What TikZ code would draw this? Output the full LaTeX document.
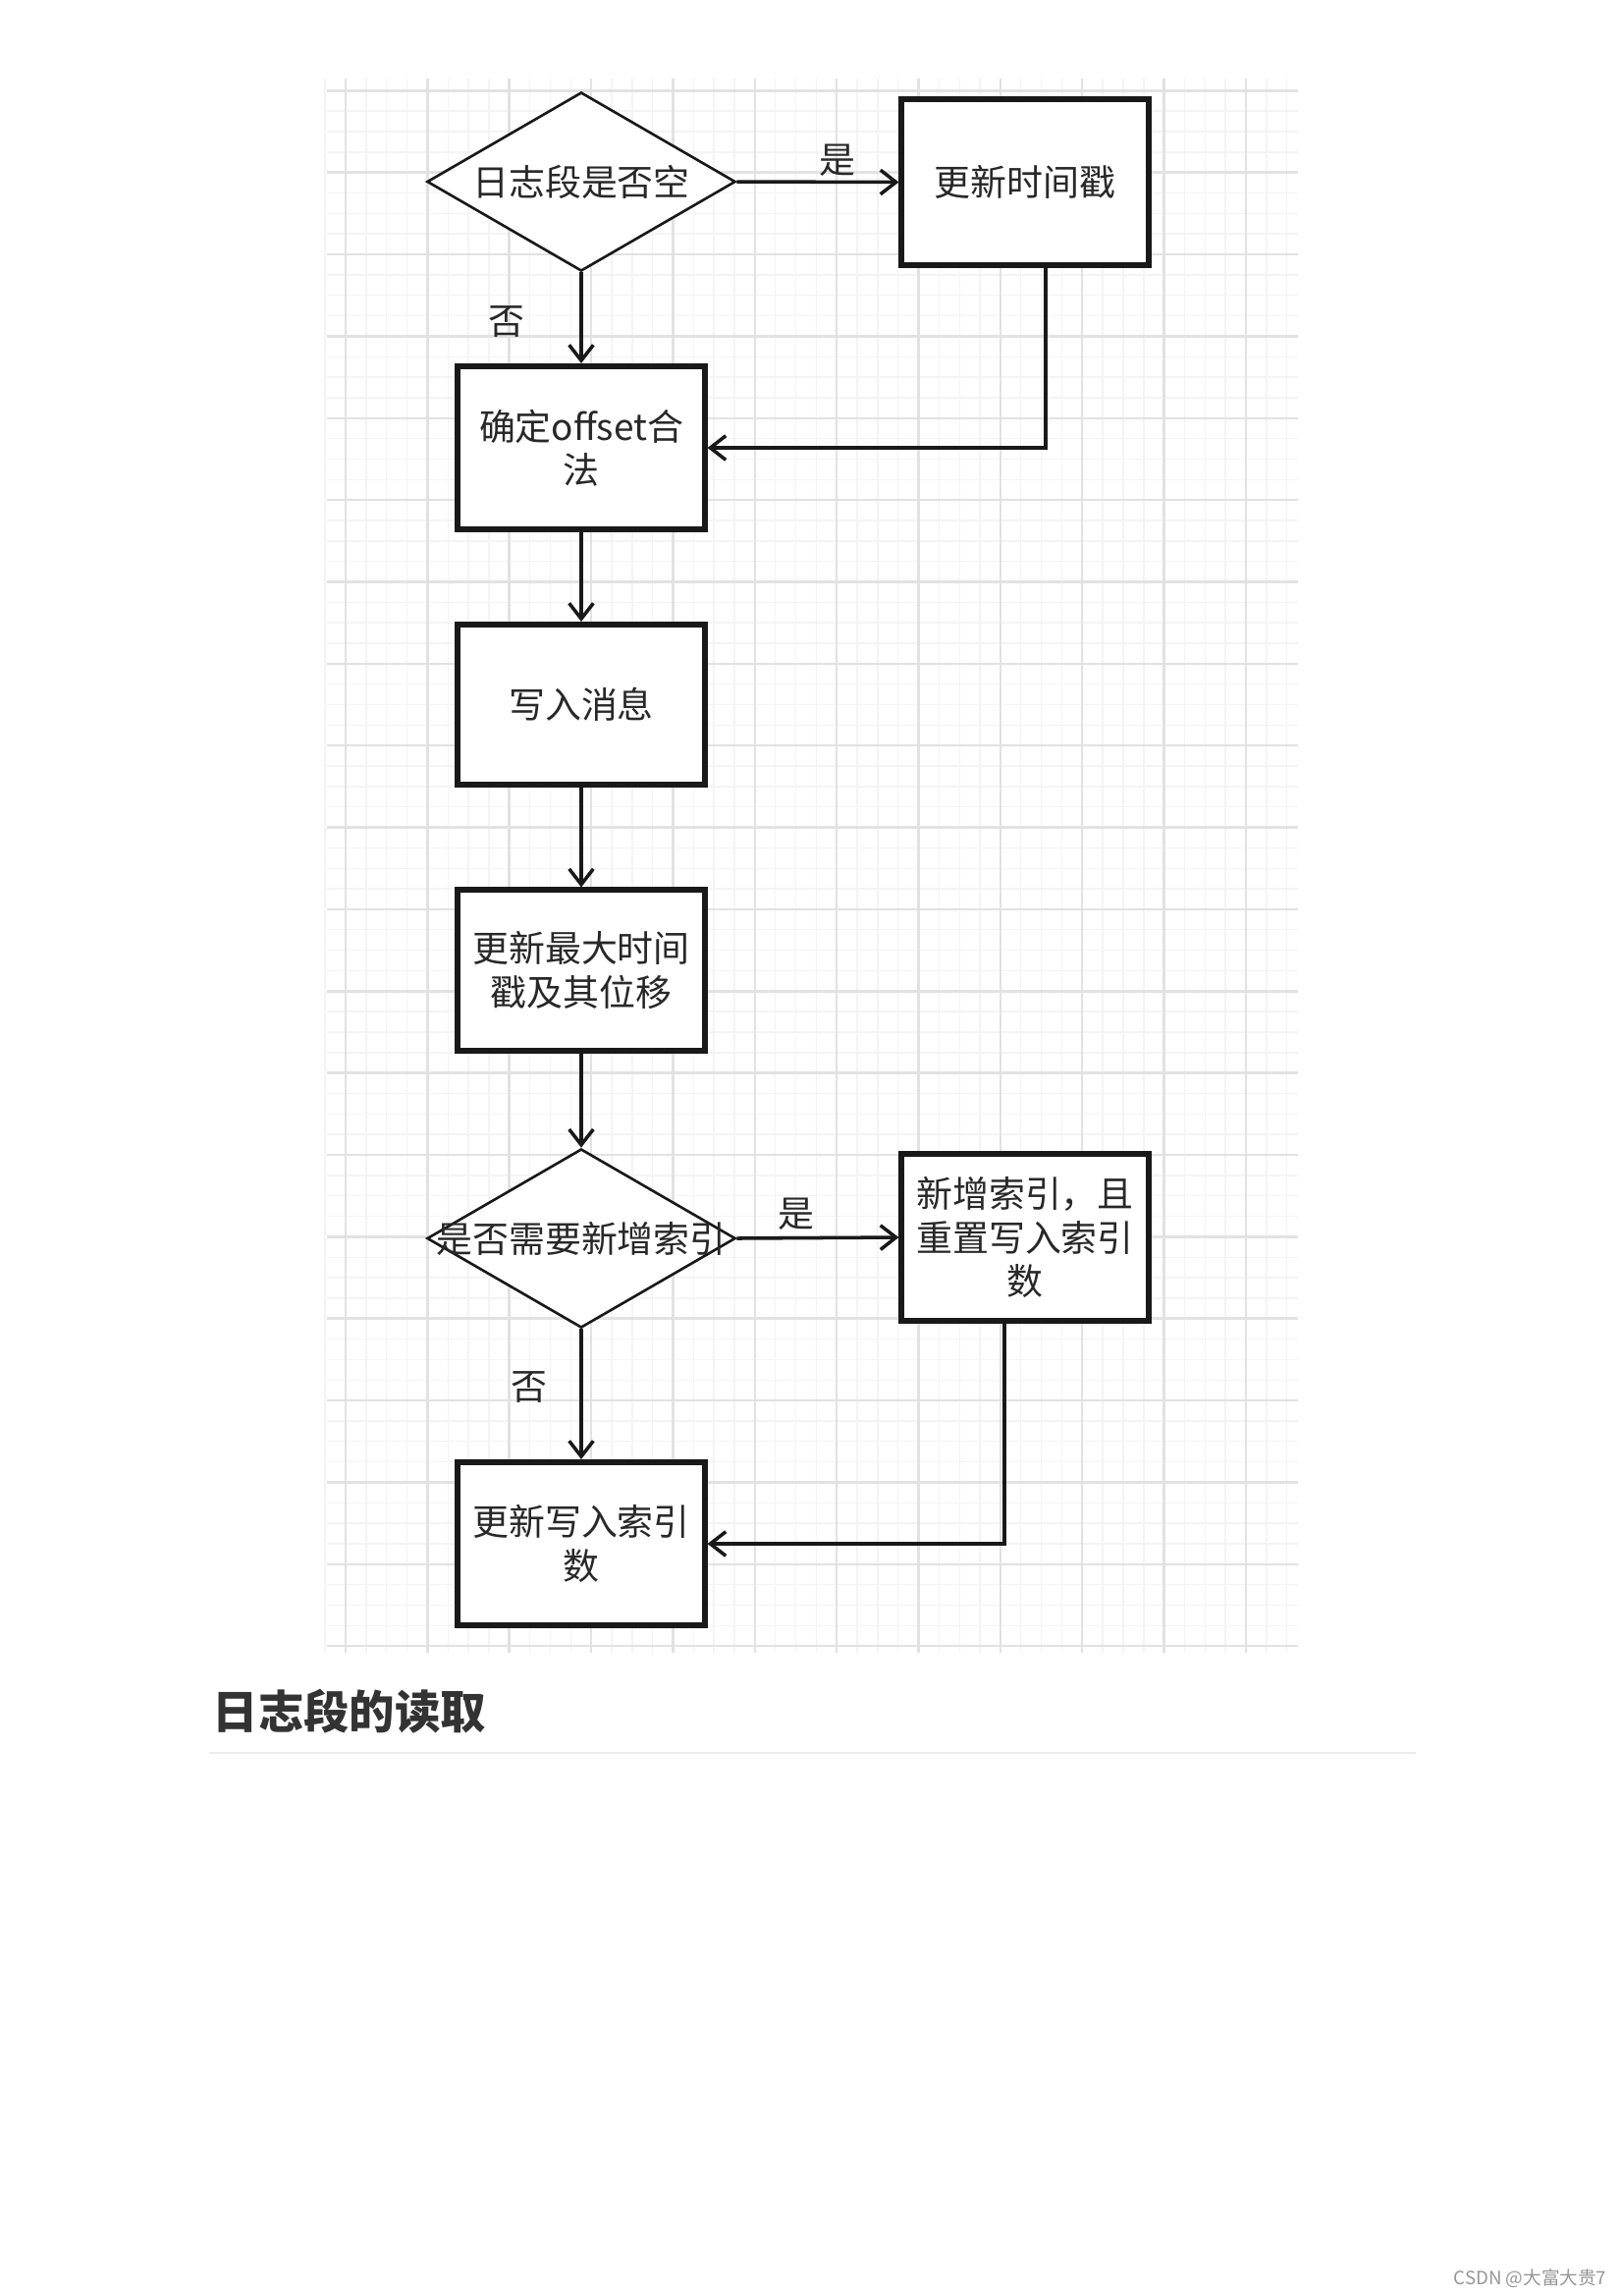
\documentclass[tikz,border=0pt]{standalone}
\usepackage{fontspec}
\setmainfont{Noto Sans CJK SC}
\usepackage{tikz}
\usetikzlibrary{shapes.geometric, arrows.meta}
\definecolor{gridMinor}{RGB}{244,244,244}
\definecolor{gridMajor}{RGB}{226,226,226}
\definecolor{inkText}{RGB}{40,40,40}
\definecolor{headText}{RGB}{51,51,51}
\definecolor{ruleGray}{RGB}{236,236,236}
\definecolor{markGray}{RGB}{150,150,150}

\begin{document}
\begin{tikzpicture}[x=0.01cm, y=-0.01cm, >={Straight Barb[length=4.5pt, width=7pt]},
  flowtext/.style={font=\fontsize{10.5pt}{12.6pt}\selectfont, text=inkText, align=center},
  procbox/.style={draw=black!90, line width=1.7pt, fill=white, minimum width=2.51cm,
    minimum height=1.66cm, inner sep=0pt, flowtext},
  decision/.style={diamond, draw=black!90, line width=0.75pt, fill=white,
    minimum width=3.14cm, minimum height=1.82cm, inner sep=0pt},
  flow/.style={->, line width=1pt, black!90},
  gridminor/.style={gridMinor, line width=0.4pt},
  gridmajor/.style={gridMajor, line width=0.7pt}]
  % page
  \fill[white] (0,0) rectangle (1652,2338);
  \useasboundingbox (0,0) rectangle (1652,2338);

  % grid behind the chart
  \foreach \i in {0,...,47}
    \draw[gridminor] ({331.2+20.84*\i},80) -- ({331.2+20.84*\i},1683);
  \foreach \j in {0,...,76}
    \draw[gridminor] (333,{92.3+20.84*\j}) -- (1322,{92.3+20.84*\j});
  \foreach \i in {0,...,11}
    \draw[gridmajor] ({352+83.36*\i},80) -- ({352+83.36*\i},1683);
  \foreach \j in {0,...,19}
    \draw[gridmajor] (333,{92.3+83.36*\j}) -- (1322,{92.3+83.36*\j});

  % steps
  \node[decision] (empty) at (592,185) {};
  \node[flowtext] (emptyText) at (empty) {日志段是否空};
  \node[procbox, minimum height=1.69cm] (stamp) at (1044,185.5) {更新时间戳};
  \node[procbox] (check) at (592,456) {确定offset合\\法};
  \node[procbox, minimum height=1.63cm] (write) at (592,717.5) {写入消息};
  \node[procbox, minimum height=1.63cm] (maxTs) at (592,988) {更新最大时间\\戳及其位移};
  \node[decision] (needIdx) at (592,1261) {};
  \node[flowtext] (needIdxText) at (needIdx) {是否需要新增索引};
  \node[procbox, minimum height=1.7cm] (newIdx) at (1044,1260) {新增索引，且\\重置写入索引\\数};
  \node[procbox] (count) at (592,1572) {更新写入索引\\数};

  % branch labels
  \node[flowtext] (yes1) at (853,163) {是};
  \node[flowtext] (no1) at (516,328) {否};
  \node[flowtext] (yes2) at (811,1236) {是};
  \node[flowtext] (no2) at (539,1412) {否};

  % arrows
  \draw[flow] (empty.east) -- (stamp.west);
  \draw[flow] (empty.south) -- (check.north);
  \draw[flow] ([xshift=0.21cm]stamp.south) |- (check.east);
  \draw[flow] (check.south) -- (write.north);
  \draw[flow] (write.south) -- (maxTs.north);
  \draw[flow] (maxTs.south) -- (needIdx.north);
  \draw[flow] (needIdx.east) -- (newIdx.west);
  \draw[flow] (needIdx.south) -- (count.north);
  \draw[flow] ([xshift=-0.21cm]newIdx.south) |- (count.east);

  % heading below the chart
  \node[font=\fontsize{13.2pt}{15pt}\selectfont\bfseries, text=headText, anchor=west,
    inner sep=0pt] (title) at (216,1743) {日志段的读取};
  \draw[ruleGray, line width=0.6pt] (213,1785) -- (1442,1785);

  \node[font=\fontsize{5.3pt}{6pt}\selectfont, text=markGray, anchor=east, inner sep=0pt]
    (mark) at (1637,2320) {CSDN @大富大贵7};
\end{tikzpicture}
\end{document}
